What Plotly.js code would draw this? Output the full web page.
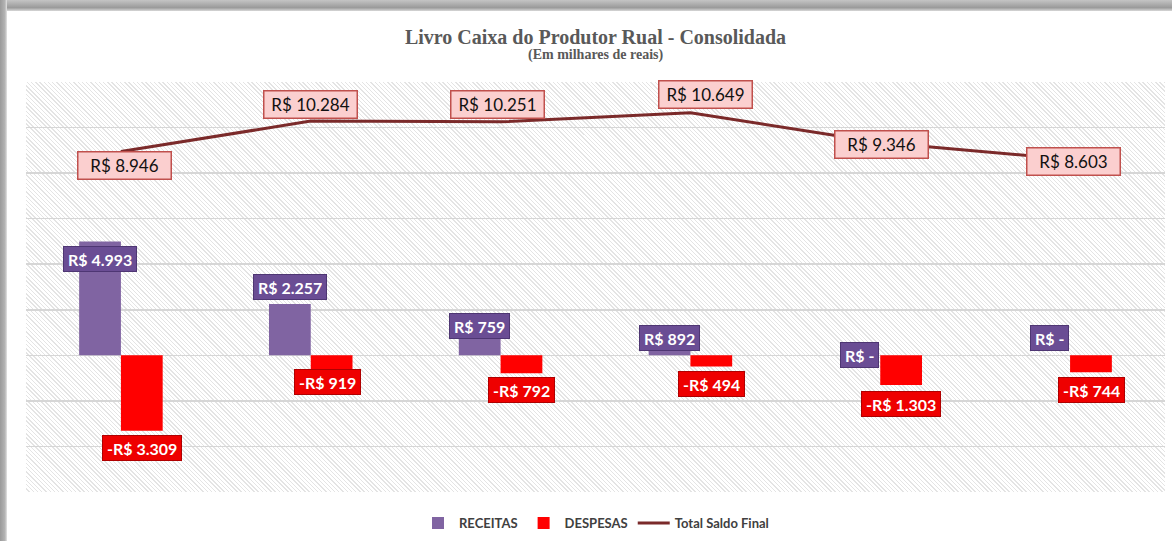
<!DOCTYPE html>
<html>
<head>
<meta charset="utf-8">
<script src="https://cdn.plot.ly/plotly-3.0.1.min.js"></script>
<style>
  html, body { margin: 0; padding: 0; background: #ffffff; width: 1172px; height: 541px; overflow: hidden; }
  #topband { position: absolute; left: 0; top: 0; width: 1172px; height: 11px;
    background: linear-gradient(to bottom, #c4c4c4 0%, #9a9a9a 70%, #d8d8d8 100%); }
  #leftband { position: absolute; left: 0; top: 0; width: 7px; height: 541px;
    background: linear-gradient(to right, #9a9a9a 0%, #b4b4b4 70%, #e4e4e4 100%); }
  #hatch { position: absolute; left: 26px; top: 82px; width: 1139px; height: 410px;
    background: repeating-linear-gradient(45deg, #ffffff 0px, #ffffff 2px, #e4e4e4 2px, #e4e4e4 3px); }
  #chart { position: absolute; left: 0; top: 0; width: 1172px; height: 541px; }
</style>
</head>
<body>
<div id="topband"></div>
<div id="leftband"></div>
<div id="hatch"></div>
<div id="chart"></div>
<script>
// ---- data ----
const categories = ['Período 1', 'Período 2', 'Período 3', 'Período 4', 'Período 5', 'Período 6'];
const receitas = [4993, 2257, 759, 892, 0, 0];
const despesas = [-3309, -919, -792, -494, -1303, -744];
const saldoFinal = [8946, 10284, 10251, 10649, 9346, 8603];

// ---- label placement (styling only) ----
const recShiftY = [-17.5, 17, 12, -3, 0, 17.5];
const desShiftY = [-17, -6, -17, -17, -18.5, -17.5];
const desShiftX = [21, 17, 21, 21, 21, 21];
const salShiftX = [4, 0, -3, 15, 1, 3];
const salShiftY = [-14, 17, 17, 18, -2, -2];

function fmt(v) {
  if (v === 0) return 'R$ -';
  const s = Math.abs(v).toString().replace(/\B(?=(\d{3})+(?!\d))/g, '.');
  return (v < 0 ? '-' : '') + 'R$ ' + s;
}

const colRec = '#8064a2';
const colDes = '#ff0000';
const colLine = '#7b2a2a';

const traces = [
  { type: 'bar', name: 'RECEITAS', x: categories, y: receitas, marker: { color: colRec } },
  { type: 'bar', name: 'DESPESAS', x: categories, y: despesas, marker: { color: colDes } },
  { type: 'scatter', mode: 'lines', name: 'Total Saldo Final', x: categories, y: saldoFinal,
    line: { color: colLine, width: 3 } }
];

const annotations = [];
categories.forEach((c, i) => {
  annotations.push({
    x: c, y: receitas[i], xref: 'x', yref: 'y', text: '<b>' + fmt(receitas[i]) + '</b>',
    showarrow: false, xshift: -21, yshift: recShiftY[i], height: 16,
    font: { family: 'Lato, sans-serif', size: 16, color: '#ffffff' },
    bgcolor: '#6a4d94', bordercolor: '#4e3673', borderwidth: 1, borderpad: 4
  });
  annotations.push({
    x: c, y: despesas[i], xref: 'x', yref: 'y', text: '<b>' + fmt(despesas[i]) + '</b>',
    showarrow: false, xshift: desShiftX[i], yshift: desShiftY[i], height: 16,
    font: { family: 'Lato, sans-serif', size: 16, color: '#ffffff' },
    bgcolor: '#ee0000', bordercolor: '#b00000', borderwidth: 1, borderpad: 4
  });
  annotations.push({
    x: c, y: saldoFinal[i], xref: 'x', yref: 'y', text: fmt(saldoFinal[i]),
    showarrow: false, xshift: salShiftX[i], yshift: salShiftY[i], width: 84, height: 18,
    font: { family: 'Lato, sans-serif', size: 17, color: '#111111' },
    bgcolor: '#fbcfcf', bordercolor: '#c0504d', borderwidth: 1.5, borderpad: 4
  });
});

// subtitle
annotations.push({
  text: '<b>(Em milhares de reais)</b>', xref: 'paper', yref: 'paper',
  x: 0.5, y: 1 + (82 - 55) / 410, xanchor: 'center', yanchor: 'middle', showarrow: false,
  font: { family: 'Liberation Serif, serif', size: 14, color: '#595959' }
});

const layout = {
  width: 1172, height: 541,
  margin: { l: 26, r: 7, t: 82, b: 49, autoexpand: false },
  paper_bgcolor: 'rgba(0,0,0,0)',
  plot_bgcolor: 'rgba(0,0,0,0)',
  title: {
    text: '<b>Livro Caixa do Produtor Rual - Consolidada</b>',
    font: { family: 'Liberation Serif, serif', size: 20, color: '#595959' },
    x: 0.5, xanchor: 'center', xref: 'paper',
    y: 1 - 37 / 541, yref: 'container', yanchor: 'middle'
  },
  barmode: 'group', bargap: 0.56, bargroupgap: 0,
  xaxis: { type: 'category', range: [-0.5, 5.5], showticklabels: false, showgrid: false, zeroline: false,
           showline: false, ticks: '' },
  yaxis: { range: [-6000, 12000], dtick: 2000, tick0: 0, showticklabels: false,
           showgrid: true, gridcolor: '#d6d6d6', gridwidth: 1.5,
           zeroline: true, zerolinecolor: '#d6d6d6', zerolinewidth: 1.5, showline: false, ticks: '' },
  showlegend: true,
  legend: { orientation: 'h', x: 0.5, xanchor: 'center', y: -0.076, yanchor: 'middle',
            font: { family: 'Lato, sans-serif', size: 13, color: '#404040', weight: 'bold' },
            itemwidth: 32, traceorder: 'normal' },
  annotations: annotations,
  hovermode: false
};

Plotly.newPlot('chart', traces, layout, { displayModeBar: false, staticPlot: true });
</script>
</body>
</html>
